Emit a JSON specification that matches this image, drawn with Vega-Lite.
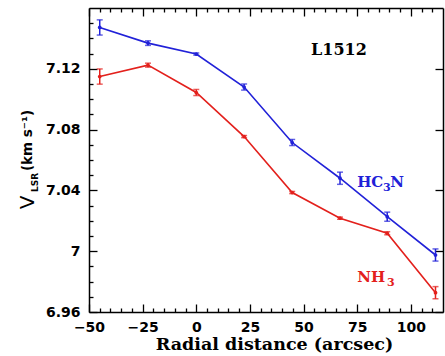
{
  "$schema": "https://vega.github.io/schema/vega-lite/v6.json",
  "width": 354,
  "height": 304,
  "autosize": {"type": "none"},
  "padding": {"left": 89, "top": 8, "right": 2, "bottom": 44},
  "background": "white",
  "config": {
    "view": {"stroke": null},
    "axis": {"grid": false, "domainColor": "black", "tickColor": "black", "domainWidth": 1.5, "tickWidth": 1.3,
      "labelFont": "DejaVu Sans", "labelFontWeight": "bold", "labelFontSize": 14, "labelColor": "black",
      "titleColor": "black", "labelFlush": false}
  },
  "datasets": {
    "d": [
      {"x": -45, "y": 7.1472, "lo": 7.1422, "hi": 7.1522, "series": "HC3N"},
      {"x": -22.5, "y": 7.1369, "lo": 7.1354, "hi": 7.1384, "series": "HC3N"},
      {"x": 0, "y": 7.1297, "lo": 7.1290, "hi": 7.1304, "series": "HC3N"},
      {"x": 22.3, "y": 7.108, "lo": 7.106, "hi": 7.110, "series": "HC3N"},
      {"x": 44.7, "y": 7.0715, "lo": 7.0695, "hi": 7.0735, "series": "HC3N"},
      {"x": 67, "y": 7.048, "lo": 7.044, "hi": 7.052, "series": "HC3N"},
      {"x": 89, "y": 7.0227, "lo": 7.0197, "hi": 7.0257, "series": "HC3N"},
      {"x": 111.5, "y": 6.9975, "lo": 6.9935, "hi": 7.0015, "series": "HC3N"},
      {"x": -45, "y": 7.1149, "lo": 7.1099, "hi": 7.1199, "series": "NH3"},
      {"x": -22.5, "y": 7.1224, "lo": 7.1211, "hi": 7.1237, "series": "NH3"},
      {"x": 0, "y": 7.1044, "lo": 7.1024, "hi": 7.1064, "series": "NH3"},
      {"x": 22.3, "y": 7.0754, "lo": 7.0747, "hi": 7.0761, "series": "NH3"},
      {"x": 44.7, "y": 7.0386, "lo": 7.0379, "hi": 7.0393, "series": "NH3"},
      {"x": 67, "y": 7.0217, "lo": 7.0210, "hi": 7.0224, "series": "NH3"},
      {"x": 89, "y": 7.0118, "lo": 7.0108, "hi": 7.0128, "series": "NH3"},
      {"x": 111.5, "y": 6.9727, "lo": 6.9687, "hi": 6.9767, "series": "NH3"}
    ],
    "title": [
      {"x": 53.5, "y": 7.1293, "text": "L1512", "series": "L"}
    ],
    "labels": [
      {"x": 75.0, "y": 7.0425, "text": "HC", "series": "HC3N"},
      {"x": 90.4, "y": 7.0425, "text": "N", "series": "HC3N"},
      {"x": 75.0, "y": 6.9796, "text": "NH", "series": "NH3"}
    ],
    "subs": [
      {"x": 87.0, "y": 7.0397, "text": "3", "series": "HC3N"},
      {"x": 88.9, "y": 6.9773, "text": "3", "series": "NH3"}
    ]
  },
  "resolve": {"axis": {"x": "independent", "y": "independent"}},
  "layer": [
    {
      "data": {"name": "d"},
      "transform": [{"filter": "datum.series === 'HC3N'"}],
      "mark": {"type": "line", "color": "#2121d8", "strokeWidth": 1.6},
      "encoding": {
        "x": {"field": "x", "type": "quantitative", "scale": {"domain": [-50, 115], "nice": false, "zero": false},
          "axis": {"orient": "bottom", "values": [-50, -25, 0, 25, 50, 75, 100], "ticks": false, "labelPadding": 8,
            "title": "Radial distance (arcsec)", "titleFont": "DejaVu Serif", "titleFontWeight": "bold",
            "titleFontSize": 17.5, "titlePadding": 1, "titleX": 185}},
        "y": {"field": "y", "type": "quantitative", "scale": {"domain": [6.96, 7.16], "nice": false, "zero": false},
          "axis": {"orient": "left", "values": [6.96, 7.0, 7.04, 7.08, 7.12], "format": "~g", "ticks": false, "labelPadding": 9,
            "title": "(km s⁻¹)", "titleFont": "DejaVu Sans", "titleFontWeight": "bold", "titleFontSize": 13.5,
            "titleBaseline": "alphabetic", "titleAngle": -90, "titleX": -58, "titleY": 132, "titleAlign": "center"}}
      }
    },
    {
      "data": {"name": "d"},
      "transform": [{"filter": "datum.series === 'NH3'"}],
      "mark": {"type": "line", "color": "#e3201c", "strokeWidth": 1.6},
      "encoding": {
        "x": {"field": "x", "type": "quantitative",
          "axis": {"orient": "bottom", "values": [-50, -25, 0, 25, 50, 75, 100], "offset": -8, "tickSize": 8, "labels": false, "domain": false, "title": null}},
        "y": {"field": "y", "type": "quantitative",
          "axis": {"orient": "left", "values": [6.96, 7.0, 7.04, 7.08, 7.12], "offset": -8, "tickSize": 8, "labels": false, "domain": false, "title": null}}
      }
    },
    {
      "data": {"name": "d"},
      "transform": [{"filter": "datum.series === 'HC3N'"}],
      "mark": {"type": "rule", "color": "#2121d8", "strokeWidth": 1.5},
      "encoding": {
        "x": {"field": "x", "type": "quantitative",
          "axis": {"orient": "bottom", "values": [-45, -40, -35, -30, -20, -15, -10, -5, 5, 10, 15, 20, 30, 35, 40, 45, 55, 60, 65, 70, 80, 85, 90, 95, 105, 110], "offset": -4, "tickSize": 4, "labels": false, "domain": false, "title": null}},
        "y": {"field": "lo", "type": "quantitative",
          "axis": {"orient": "left", "values": [6.97, 6.98, 6.99, 7.01, 7.02, 7.03, 7.05, 7.06, 7.07, 7.09, 7.10, 7.11, 7.13, 7.14, 7.15], "offset": -4, "tickSize": 4, "labels": false, "domain": false,
            "title": "LSR", "titleFont": "DejaVu Sans", "titleFontWeight": "bold", "titleFontSize": 9,
            "titleBaseline": "alphabetic", "titleAngle": -90, "titleX": -56, "titleY": 174, "titleAlign": "center"}},
        "y2": {"field": "hi"}
      }
    },
    {
      "data": {"name": "d"},
      "transform": [{"filter": "datum.series === 'NH3'"}],
      "mark": {"type": "rule", "color": "#e3201c", "strokeWidth": 1.5},
      "encoding": {
        "x": {"field": "x", "type": "quantitative",
          "axis": {"orient": "top", "ticks": false, "labels": false, "title": null}},
        "y": {"field": "lo", "type": "quantitative",
          "axis": {"orient": "left", "ticks": false, "labels": false, "domain": false,
            "title": "V", "titleFont": "DejaVu Sans", "titleFontWeight": "normal", "titleFontSize": 20,
            "titleBaseline": "alphabetic", "titleAngle": -90, "titleX": -56, "titleY": 194, "titleAlign": "center"}},
        "y2": {"field": "hi"}
      }
    },
    {
      "data": {"name": "d"},
      "mark": {"type": "tick", "orient": "horizontal", "size": 6, "thickness": 1.5},
      "encoding": {
        "x": {"field": "x", "type": "quantitative",
          "axis": {"orient": "top", "values": [-50, -25, 0, 25, 50, 75, 100], "offset": -8, "tickSize": 8, "labels": false, "domain": false, "title": null}},
        "y": {"field": "lo", "type": "quantitative",
          "axis": {"orient": "right", "ticks": false, "labels": false, "title": null}},
        "color": {"field": "series", "type": "nominal", "scale": {"domain": ["HC3N", "NH3", "L"], "range": ["#2121d8", "#e3201c", "black"]}, "legend": null}
      }
    },
    {
      "data": {"name": "d"},
      "mark": {"type": "tick", "orient": "horizontal", "size": 6, "thickness": 1.5},
      "encoding": {
        "x": {"field": "x", "type": "quantitative",
          "axis": {"orient": "top", "values": [-45, -40, -35, -30, -20, -15, -10, -5, 5, 10, 15, 20, 30, 35, 40, 45, 55, 60, 65, 70, 80, 85, 90, 95, 105, 110], "offset": -4, "tickSize": 4, "labels": false, "domain": false, "title": null}},
        "y": {"field": "hi", "type": "quantitative",
          "axis": {"orient": "right", "values": [6.96, 7.0, 7.04, 7.08, 7.12], "offset": -8, "tickSize": 8, "labels": false, "domain": false, "title": null}},
        "color": {"field": "series", "type": "nominal", "legend": null}
      }
    },
    {
      "data": {"name": "d"},
      "mark": {"type": "circle", "size": 14, "opacity": 1},
      "encoding": {
        "x": {"field": "x", "type": "quantitative", "axis": null},
        "y": {"field": "y", "type": "quantitative", "axis": null},
        "color": {"field": "series", "type": "nominal", "legend": null}
      }
    },
    {
      "data": {"name": "title"},
      "mark": {"type": "text", "font": "DejaVu Serif", "fontWeight": "bold", "fontSize": 16, "align": "left", "baseline": "alphabetic"},
      "encoding": {
        "x": {"field": "x", "type": "quantitative", "axis": null},
        "y": {"field": "y", "type": "quantitative", "axis": null},
        "text": {"field": "text"},
        "color": {"field": "series", "type": "nominal", "legend": null}
      }
    },
    {
      "data": {"name": "labels"},
      "mark": {"type": "text", "font": "DejaVu Serif", "fontWeight": "bold", "fontSize": 15, "align": "left", "baseline": "alphabetic"},
      "encoding": {
        "x": {"field": "x", "type": "quantitative", "axis": null},
        "y": {"field": "y", "type": "quantitative", "axis": null},
        "text": {"field": "text"},
        "color": {"field": "series", "type": "nominal", "legend": null}
      }
    },
    {
      "data": {"name": "subs"},
      "mark": {"type": "text", "font": "DejaVu Serif", "fontWeight": "bold", "fontSize": 11, "align": "left", "baseline": "alphabetic"},
      "encoding": {
        "x": {"field": "x", "type": "quantitative", "axis": null},
        "y": {"field": "y", "type": "quantitative", "axis": null},
        "text": {"field": "text"},
        "color": {"field": "series", "type": "nominal", "legend": null}
      }
    }
  ]
}
